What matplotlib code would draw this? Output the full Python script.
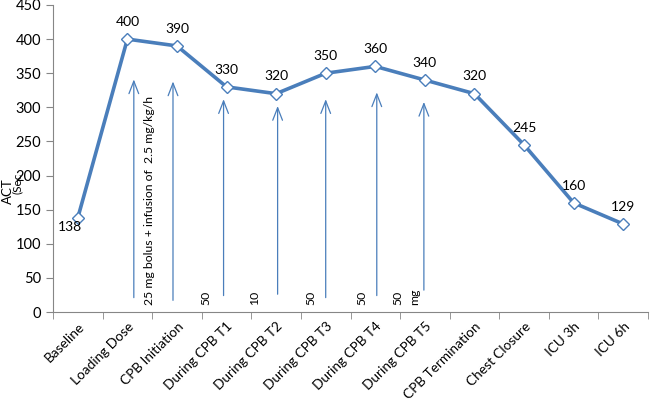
import matplotlib.pyplot as plt
import numpy as np

# data
categories = ["Baseline", "Loading Dose", "CPB Initiation", "During CPB T1",
              "During CPB T2", "During CPB T3", "During CPB T4", "During CPB T5",
              "CPB Termination", "Chest Closure", "ICU 3h", "ICU 6h"]
act_values = [138, 400, 390, 330, 320, 350, 360, 340, 320, 245, 160, 129]

# dosing arrows (x position in category units, bottom, top)
arrow_x = [1.13, 1.92, 2.94, 4.03, 5.0, 6.03, 6.98]
arrow_bottom = [17, 13, 20, 22, 17, 20, 28]
arrow_top = [345, 342, 316, 306, 316, 326, 312]

# dose notes written vertically
note_text = ["25 mg bolus + infusion of  2.5 mg/kg/h", "50", "10", "50", "50", "50", "mg"]
note_x = [1.45, 2.58, 3.57, 4.70, 5.73, 6.45, 6.79]

blue = "#4a7ebb"
gray = "#868686"

plt.rcParams['font.family'] = ['Lato', 'DejaVu Sans']

fig = plt.figure(figsize=(6.5, 3.99), dpi=100)
ax = fig.add_axes([53/650, 1 - 312/399, (648 - 53)/650, (312 - 5)/399])

x = np.arange(len(categories))
ax.plot(x, act_values, color=blue, linewidth=2.6, marker='D', markersize=6.5,
        markerfacecolor='white', markeredgecolor=blue, markeredgewidth=1, zorder=3)

# value labels
for i, v in enumerate(act_values):
    if i == 0:
        ax.annotate(str(v), (i, v), xytext=(-6, -2), textcoords='offset points',
                    ha='center', va='top', fontsize=10)
    else:
        ax.annotate(str(v), (i, v), xytext=(0, 9.5), textcoords='offset points',
                    ha='center', va='baseline', fontsize=10)

# arrows
for ax_x, b, t in zip(arrow_x, arrow_bottom, arrow_top):
    ax.annotate("", xy=(ax_x, t), xytext=(ax_x, b),
                arrowprops=dict(arrowstyle='->,head_length=0.9,head_width=0.35',
                                color=blue, lw=0.9))

# notes
for txt, nx in zip(note_text, note_x):
    ax.text(nx, 10, txt, rotation=90, ha='center', va='bottom', fontsize=8.8)

ax.set_xlim(-0.5, 11.5)
ax.set_ylim(0, 450)
ax.set_yticks(range(0, 451, 50))
ax.set_xticks(x)
ax.set_xticklabels(categories, rotation=45, ha='right', rotation_mode='anchor', fontsize=9.8)
ax.set_xticks(np.arange(-0.5, 12, 1), minor=True)
ax.tick_params(axis='x', which='major', length=0, pad=6)
ax.tick_params(axis='x', which='minor', length=5, color=gray)
ax.tick_params(axis='y', length=5, color=gray, labelsize=10.5)

for s in ['top', 'right']:
    ax.spines[s].set_visible(False)
for s in ['left', 'bottom']:
    ax.spines[s].set_color(gray)

fig.text(8/650, 1 - 191/399, "ACT", rotation=90, ha='center', va='center', fontsize=9.5)
fig.text(17/650, 1 - 183/399, "(Sec", rotation=90, ha='center', va='center', fontsize=8.5)

fig.savefig("out.png", dpi=100)
